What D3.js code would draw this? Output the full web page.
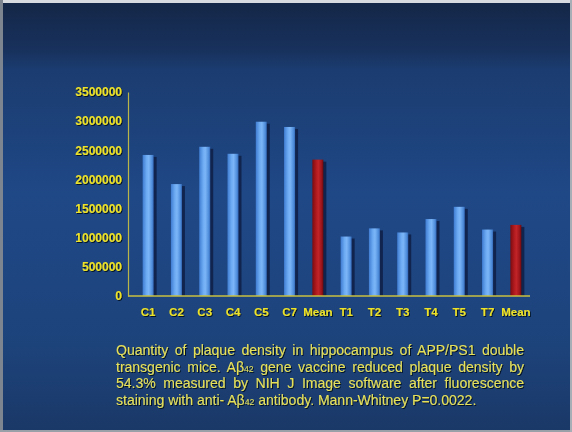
<!DOCTYPE html>
<html>
<head>
<meta charset="utf-8">
<script src="https://cdn.jsdelivr.net/npm/d3@7/dist/d3.min.js"></script>
<style>
  html, body { margin: 0; padding: 0; background: #ffffff; }
  svg { display: block; }
</style>
</head>
<body>
<svg id="chart" width="572" height="432"></svg>
<script>
// Plaque density per animal: controls (C) and vaccinated (T), each group followed by its mean
const categories = ["C1", "C2", "C3", "C4", "C5", "C7", "Mean", "T1", "T2", "T3", "T4", "T5", "T7", "Mean "];
const labels     = ["C1", "C2", "C3", "C4", "C5", "C7", "Mean", "T1", "T2", "T3", "T4", "T5", "T7", "Mean"];
const values     = [2420000, 1920000, 2560000, 2440000, 2990000, 2900000, 2340000,
                    1020000, 1160000, 1090000, 1320000, 1530000, 1140000, 1220000];
const isMean     = [false, false, false, false, false, false, true,
                    false, false, false, false, false, false, true];
const yTicks     = [0, 500000, 1000000, 1500000, 2000000, 2500000, 3000000, 3500000];

const captionLines = [
  [{t: "Quantity of plaque density in hippocampus of APP/PS1 double"}],
  [{t: "transgenic mice. A\u03b2"}, {t: "42", sub: true}, {t: " gene vaccine reduced plaque density by"}],
  [{t: "54.3% measured by NIH J Image software after fluorescence"}],
  [{t: "staining with anti- A\u03b2"}, {t: "42", sub: true}, {t: " antibody. Mann-Whitney P=0.0022."}]
];

const W = 572, H = 432;
const svg = d3.select("#chart");
const defs = svg.append("defs");

// slide background
const bg = defs.append("linearGradient").attr("id", "bg").attr("x1", 0).attr("y1", 0).attr("x2", 0).attr("y2", 1);
[[0, "#142646"], [0.12, "#18325e"], [0.16, "#1b3c70"], [0.45, "#1f4886"], [0.8, "#1d437b"], [1, "#1a3867"]]
  .forEach(([o, c]) => bg.append("stop").attr("offset", o).attr("stop-color", c));

// cylindrical shading for the bars
function barGrad(id, stops) {
  const g = defs.append("linearGradient").attr("id", id).attr("x1", 0).attr("y1", 0).attr("x2", 1).attr("y2", 0);
  stops.forEach(([o, c]) => g.append("stop").attr("offset", o).attr("stop-color", c));
}
barGrad("blueBar", [[0, "#3f7cd2"], [0.35, "#6caaf2"], [0.55, "#7cb6f8"], [0.85, "#508edc"], [1, "#356ab8"]]);
barGrad("redBar",  [[0, "#7a0c10"], [0.35, "#b01a1e"], [0.55, "#c22428"], [0.85, "#98141a"], [1, "#6a0a0e"]]);

const shadow = defs.append("filter").attr("id", "txtShadow").attr("x", "-10%").attr("y", "-20%").attr("width", "130%").attr("height", "150%");
shadow.append("feDropShadow").attr("dx", 1).attr("dy", 1).attr("stdDeviation", 0.6)
  .attr("flood-color", "#050c1c").attr("flood-opacity", 0.9);

svg.append("rect").attr("width", W).attr("height", H).attr("fill", "url(#bg)");
// thin frame around the slide
svg.append("rect").attr("x", 0).attr("y", 0).attr("width", W).attr("height", 3).attr("fill", "#d8dce0");
svg.append("rect").attr("x", 0).attr("y", 0).attr("width", 3).attr("height", H).attr("fill", "#7d8590");
svg.append("rect").attr("x", 0).attr("y", H - 2).attr("width", W).attr("height", 2).attr("fill", "#9aa0a8");
svg.append("rect").attr("x", W - 2).attr("y", 0).attr("width", 2).attr("height", H).attr("fill", "#a8aeb6");

// scales
const x = d3.scaleBand().domain(categories).range([134, 530]).padding(0);
const y = d3.scaleLinear().domain([0, 3500000]).range([296, 92]);
const axisLeftX = 128;
const barW = 11;

const fontFamily = "'Liberation Sans', Arial, Helvetica, sans-serif";

// bars: dark side shadow then shaded body
const bars = svg.append("g");
bars.selectAll("rect.side").data(values).join("rect")
  .attr("class", "side")
  .attr("x", (d, i) => x(categories[i]) + x.bandwidth() / 2 - barW / 2 + barW - 1)
  .attr("y", d => y(d) + 2)
  .attr("width", 4)
  .attr("height", d => y(0) - y(d) - 2)
  .attr("fill", "#0e1f45").attr("opacity", 0.85);
bars.selectAll("rect.body").data(values).join("rect")
  .attr("class", "body")
  .attr("x", (d, i) => x(categories[i]) + x.bandwidth() / 2 - barW / 2)
  .attr("y", d => y(d))
  .attr("width", barW)
  .attr("height", d => y(0) - y(d))
  .attr("fill", (d, i) => isMean[i] ? "url(#redBar)" : "url(#blueBar)");

// y axis
const yAxis = svg.append("g").attr("transform", `translate(${axisLeftX},0)`)
  .call(d3.axisLeft(y).tickValues(yTicks).tickFormat(d3.format("d")).tickSize(0).tickPadding(6));
yAxis.select(".domain").attr("stroke", "#b9b548").attr("stroke-width", 1.2);
yAxis.selectAll("text")
  .attr("fill", "#ece22a").attr("font-family", fontFamily).attr("font-weight", "bold")
  .attr("font-size", 12).attr("filter", "url(#txtShadow)");

// x axis
const xAxis = svg.append("g").attr("transform", `translate(0,${y(0)})`)
  .call(d3.axisBottom(x).tickSize(0).tickPadding(12).tickFormat((d, i) => labels[i]));
xAxis.select(".domain").remove();
xAxis.selectAll("text")
  .attr("fill", "#ece22a").attr("font-family", fontFamily).attr("font-weight", "bold")
  .attr("font-size", 11.5).attr("filter", "url(#txtShadow)");
svg.append("line")
  .attr("x1", axisLeftX).attr("x2", x.range()[1])
  .attr("y1", y(0)).attr("y2", y(0))
  .attr("stroke", "#c8c040").attr("stroke-width", 1.6);

// caption, justified across the first three lines
const capLeft = 116, capRight = 524, capTop = 355, capLead = 16.7, capSize = 14;
const cap = svg.append("g").attr("filter", "url(#txtShadow)");
captionLines.forEach((parts, li) => {
  const t = cap.append("text")
    .attr("x", capLeft).attr("y", capTop + li * capLead)
    .attr("fill", "#e4e05c").attr("font-family", fontFamily).attr("font-size", capSize);
  parts.forEach(p => {
    const s = t.append("tspan").text(p.t);
    if (p.sub) s.attr("font-size", capSize * 0.62);
  });
  if (li < captionLines.length - 1) {
    const natural = t.node().getComputedTextLength();
    const spaces = parts.map(p => p.t).join("").split(" ").length - 1;
    t.attr("word-spacing", (capRight - capLeft - natural) / spaces);
  }
});
</script>
</body>
</html>
